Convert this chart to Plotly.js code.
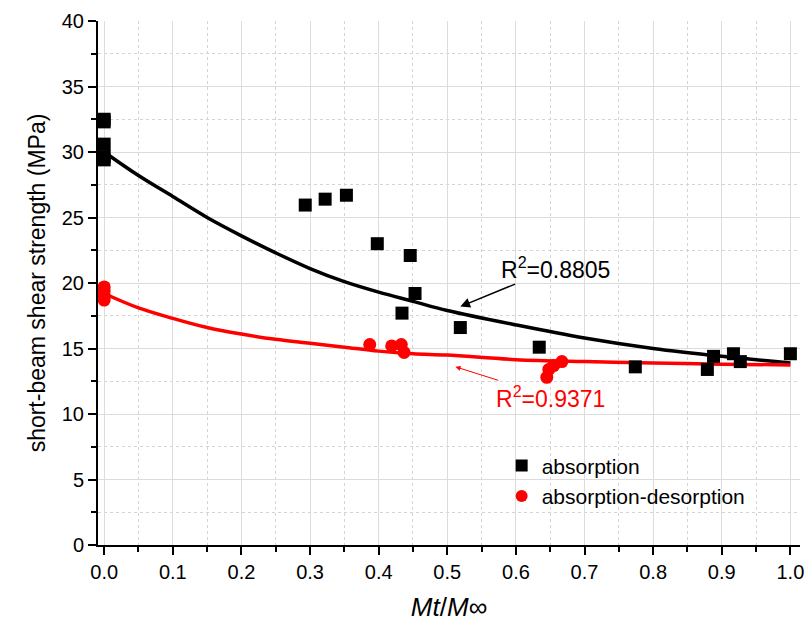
<!DOCTYPE html>
<html>
<head>
<meta charset="utf-8">
<script src="https://cdn.plot.ly/plotly-3.0.1.min.js"></script>
<style>html,body{margin:0;padding:0;background:#fff;}#chart{width:804px;height:628px;}</style>
</head>
<body>
<div id="chart"></div>
<script>
// absorption (black squares)
var absX = [0, 0, 0, 0, 0, 0.293, 0.322, 0.353, 0.398, 0.446, 0.453, 0.434, 0.519, 0.634, 0.774, 0.879, 0.888, 0.917, 0.927, 1.0];
var absY = [32.5, 32.3, 30.6, 29.65, 29.4, 25.95, 26.4, 26.7, 23.0, 22.1, 19.2, 17.7, 16.6, 15.1, 13.6, 13.4, 14.4, 14.6, 14.0, 14.6];
// absorption-desorption (red circles)
var desX = [0, 0, 0, 0, 0.387, 0.419, 0.433, 0.437, 0.645, 0.648, 0.655, 0.667];
var desY = [19.7, 19.4, 19.0, 18.7, 15.3, 15.2, 15.3, 14.7, 12.8, 13.4, 13.7, 14.0];
// fitted curves
var fitX = [0, 0.05, 0.1, 0.15, 0.2, 0.25, 0.3, 0.35, 0.4, 0.45, 0.5, 0.6, 0.7, 0.8, 0.9, 1.0];
var fitAbsY = [30.0, 28.2, 26.6, 25.0, 23.6, 22.3, 21.1, 20.1, 19.3, 18.6, 17.9, 16.8, 15.8, 15.0, 14.4, 13.9];
var fitDesY = [19.2, 18.1, 17.3, 16.6, 16.1, 15.7, 15.4, 15.1, 14.8, 14.6, 14.5, 14.15, 14.0, 13.9, 13.8, 13.75];
var xTickVals = [0, 0.1, 0.2, 0.3, 0.4, 0.5, 0.6, 0.7, 0.8, 0.9, 1.0];
var xTickText = ['0.0', '0.1', '0.2', '0.3', '0.4', '0.5', '0.6', '0.7', '0.8', '0.9', '1.0'];
var yTickVals = [0, 5, 10, 15, 20, 25, 30, 35, 40];

var FONT = 'Liberation Sans, Arial, sans-serif';

var traces = [
  {x: fitX, y: fitAbsY, mode: 'lines', line: {color: '#000', width: 3.5, shape: 'spline'}, showlegend: false, hoverinfo: 'skip'},
  {x: fitX, y: fitDesY, mode: 'lines', line: {color: '#ff0000', width: 3.5, shape: 'spline'}, showlegend: false, hoverinfo: 'skip'},
  {x: absX, y: absY, mode: 'markers', name: 'absorption', marker: {symbol: 'square', color: '#000', size: 13}},
  {x: desX, y: desY, mode: 'markers', name: 'absorption-desorption', marker: {symbol: 'circle', color: '#ff0000', size: 13}}
];

var layout = {
  width: 804, height: 628,
  margin: {l: 98, r: 4, t: 21, b: 83},
  paper_bgcolor: '#fff', plot_bgcolor: '#fff',
  font: {family: FONT, color: '#000', size: 20},
  showlegend: true,
  legend: {x: 0.575, y: 0.19, xanchor: 'left', yanchor: 'top', bgcolor: 'rgba(255,255,255,0)', font: {size: 21, family: FONT}, tracegroupgap: 0, itemsizing: 'constant'},
  xaxis: {
    range: [-0.009, 1.014],
    tickvals: xTickVals, ticktext: xTickText,
    ticklabeloverflow: 'allow',
    ticks: 'outside', ticklen: 8, tickwidth: 2, tickcolor: '#000',
    showline: true, linecolor: '#000', linewidth: 2, mirror: false,
    showgrid: true, gridcolor: '#dcdcdc', gridwidth: 1,
    zeroline: false,
    tickfont: {size: 20, family: FONT},
    minor: {dtick: 0.05, tick0: 0, ticks: 'outside', ticklen: 5, tickwidth: 2, tickcolor: '#000', showgrid: true, gridcolor: '#d4d4d4', griddash: 'dot', gridwidth: 1},
    title: {text: '<i>Mt</i>/<i>M</i>∞', font: {size: 26, family: FONT}, standoff: 16},
    automargin: false
  },
  yaxis: {
    range: [0, 40],
    tickvals: yTickVals,
    ticklabeloverflow: 'allow',
    ticks: 'outside', ticklen: 8, tickwidth: 2, tickcolor: '#000',
    showline: true, linecolor: '#000', linewidth: 2, mirror: false,
    showgrid: true, gridcolor: '#dcdcdc', gridwidth: 1,
    zeroline: false,
    tickfont: {size: 20, family: FONT},
    minor: {dtick: 2.5, tick0: 0, ticks: 'outside', ticklen: 5, tickwidth: 2, tickcolor: '#000', showgrid: true, gridcolor: '#d4d4d4', griddash: 'dot', gridwidth: 1},
    title: {text: 'short-beam shear strength (MPa)', font: {size: 23, family: FONT}, standoff: 10},
    automargin: false
  },
  annotations: [
    {x: 0.519, y: 18.2, xref: 'x', yref: 'y', text: 'R<sup>2</sup>=0.8805', showarrow: true,
     ax: 95, ay: -39, arrowhead: 2, arrowsize: 1.3, arrowwidth: 1.5, arrowcolor: '#000',
     font: {size: 23, color: '#000', family: FONT}},
    {x: 0.512, y: 13.6, xref: 'x', yref: 'y', text: 'R<sup>2</sup>=0.9371', showarrow: true,
     ax: 95, ay: 30, arrowhead: 2, arrowsize: 1, arrowwidth: 1, arrowcolor: '#ff0000',
     font: {size: 23, color: '#ff0000', family: FONT}}
  ]
};

Plotly.newPlot('chart', traces, layout, {displayModeBar: false, staticPlot: true});
</script>
</body>
</html>
